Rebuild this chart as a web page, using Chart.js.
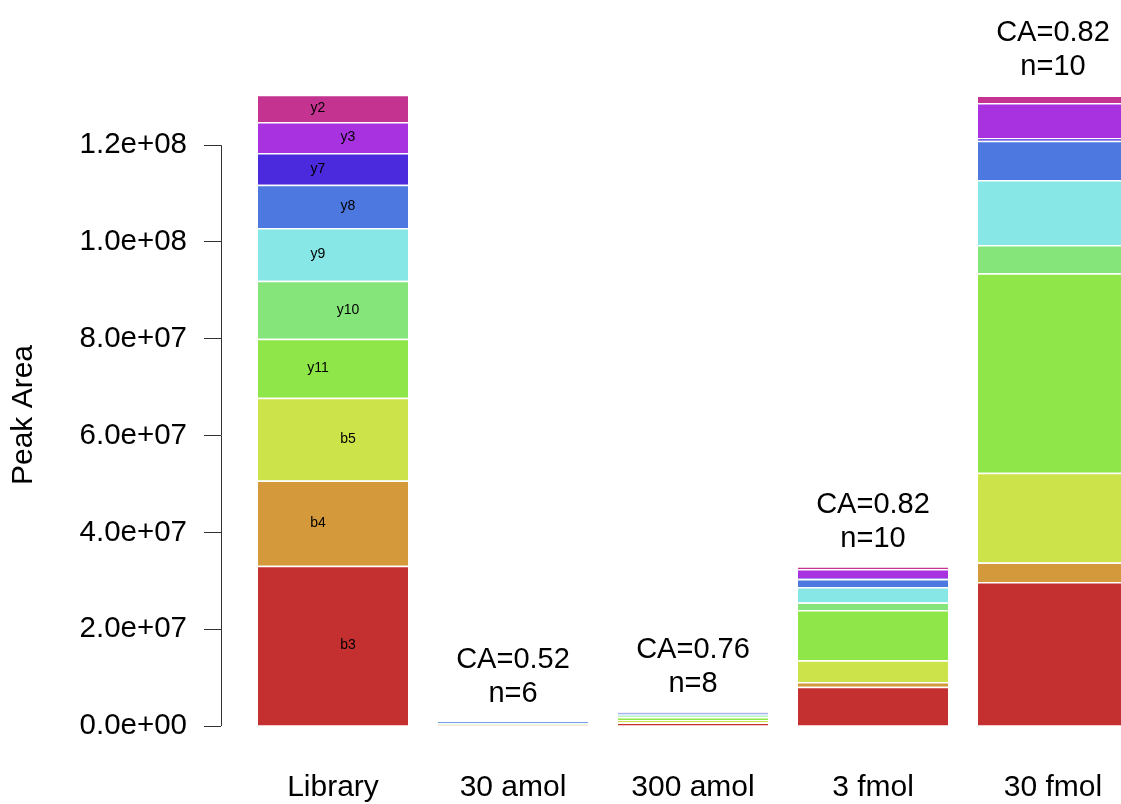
<!DOCTYPE html>
<html>
<head>
<meta charset="utf-8">
<title>Peak Area by fragment ion</title>
<script src="https://cdn.jsdelivr.net/npm/chart.js@4.4.1/dist/chart.umd.min.js"></script>
<style>
  html, body { margin: 0; padding: 0; background: #ffffff; overflow: hidden; }
  #wrap { width: 1121px; height: 804px; position: relative; overflow: hidden; }
  #chart { position: absolute; left: 0; top: 0; }
</style>
</head>
<body>
<div id="wrap"><canvas id="chart" width="1121" height="850"></canvas></div>
<script>
// Sample columns
const categories = ['Library', '30 amol', '300 amol', '3 fmol', '30 fmol'];

// Fragment ions, stacked from the bottom of each column to the top
const ions = ['b3', 'b4', 'b5', 'y11', 'y10', 'y9', 'y8', 'y7', 'y3', 'y2'];
const ionColors = ['#c4302f', '#d4993a', '#cce34a', '#8fe648', '#86e57a',
                   '#87e6e6', '#4c78df', '#4a2adc', '#a832df', '#c4338f'];

// Peak area of each ion per column
const b3  = [33.1e6, 0.20e6, 0.70e6,  8.12e6, 29.75e6];
const b4  = [17.6e6, 0,      0.10e6,  0.97e6,  4.03e6];
const b5  = [17.1e6, 0.10e6, 0.45e6,  4.48e6, 18.55e6];
const y11 = [12.2e6, 0.15e6, 0.55e6, 10.39e6, 41.20e6];
const y10 = [12.0e6, 0.05e6, 0.30e6,  1.55e6,  5.85e6];
const y9  = [10.9e6, 0.10e6, 0.25e6,  3.20e6, 13.43e6];
const y8  = [ 8.9e6, 0.30e6, 0.45e6,  1.66e6,  8.12e6];
const y7  = [ 6.6e6, 0,      0,       0.20e6,  0.56e6];
const y3  = [ 6.4e6, 0,      0.08e6,  1.86e6,  7.23e6];
const y2  = [ 5.6e6, 0,      0,       0.52e6,  1.55e6];
const ionValues = [b3, b4, b5, y11, y10, y9, y8, y7, y3, y2];

// Annotations above the sample columns
const caScores = [null, 0.52, 0.76, 0.82, 0.82];
const transitionCounts = [null, 6, 8, 10, 10];

// Y axis tick positions
const yTicks = [0, 2e7, 4e7, 6e7, 8e7, 1e8, 1.2e8];

const FONT = '"Liberation Sans", Arial, Helvetica, sans-serif';
const AXIS_COLOR = '#333333';

function sciLabel(v) {
  if (v === 0) return '0.0e+00';
  const e = Math.floor(Math.log10(Math.abs(v)) + 1e-9);
  const m = v / Math.pow(10, e);
  return m.toFixed(1) + 'e' + (e < 0 ? '-' : '+') + String(Math.abs(e)).padStart(2, '0');
}

const datasets = ions.map((name, i) => ({
  label: name,
  data: ionValues[i].map((v, j) => ({ x: j, y: v })),
  backgroundColor: ionColors[i],
  borderColor: '#ffffff',
  borderWidth: { top: 1.5, bottom: 0, left: 0, right: 0 },
  borderSkipped: false,
  barPercentage: 1,
  categoryPercentage: 150 / 180,
  clip: false
}));

// Y axis line spanning only the labelled tick range
const axisLine = {
  id: 'axisLine',
  afterDraw(chart) {
    const ys = chart.scales.y;
    const ctx = chart.ctx;
    const x = Math.round(chart.chartArea.left) + 0.5;
    ctx.save();
    ctx.strokeStyle = AXIS_COLOR;
    ctx.lineWidth = 1;
    ctx.beginPath();
    ctx.moveTo(x, ys.getPixelForValue(yTicks[0]));
    ctx.lineTo(x, ys.getPixelForValue(yTicks[yTicks.length - 1]));
    ctx.stroke();
    ctx.restore();
  }
};

// Ion names inside the Library column and CA / n labels above the others
const annotate = {
  id: 'annotate',
  afterDatasetsDraw(chart) {
    const ctx = chart.ctx;
    const xs = chart.scales.x;
    const ys = chart.scales.y;
    ctx.save();
    ctx.fillStyle = '#000000';
    ctx.textAlign = 'center';

    ctx.font = '14px ' + FONT;
    ctx.textBaseline = 'middle';
    chart.data.datasets.forEach((ds, i) => {
      const bar = chart.getDatasetMeta(i).data[0];
      const cx = bar.x + (i % 2 === 0 ? 15 : -15);
      ctx.fillText(ds.label, cx, (bar.y + bar.base) / 2);
    });

    ctx.font = '29px ' + FONT;
    ctx.textBaseline = 'alphabetic';
    categories.forEach((c, j) => {
      if (caScores[j] === null) return;
      const total = ionValues.reduce((s, arr) => s + arr[j], 0);
      const top = ys.getPixelForValue(total);
      const cx = xs.getPixelForValue(j);
      ctx.fillText('CA=' + caScores[j].toFixed(2), cx, top - 54);
      ctx.fillText('n=' + transitionCounts[j], cx, top - 20);
    });
    ctx.restore();
  }
};

new Chart(document.getElementById('chart'), {
  type: 'bar',
  data: { datasets },
  plugins: [annotate, axisLine],
  options: {
    responsive: false,
    devicePixelRatio: 1,
    animation: false,
    layout: { padding: { top: 104, left: 0, right: 0, bottom: 0 } },
    plugins: { legend: { display: false }, tooltip: { enabled: false } },
    scales: {
      x: {
        type: 'linear',
        stacked: true,
        min: -112 / 180,
        max: 5 - 112 / 180,
        offset: false,
        grid: { display: false, drawTicks: false },
        border: { display: false },
        afterBuildTicks(scale) {
          scale.ticks = categories.map((c, i) => ({ value: i }));
        },
        afterFit(scale) {
          scale.paddingLeft = 0;
          scale.paddingRight = 0;
        },
        ticks: {
          autoSkip: false,
          maxRotation: 0,
          padding: 44,
          color: '#000000',
          font: { family: FONT, size: 30 },
          callback: (v) => categories[v] ?? ''
        }
      },
      y: {
        stacked: true,
        min: 0,
        max: 1.285e8,
        afterFit(scale) { scale.width = 221; },
        afterBuildTicks(scale) {
          scale.ticks = yTicks.map(v => ({ value: v }));
        },
        grid: {
          display: true,
          drawOnChartArea: false,
          drawTicks: true,
          tickLength: 17,
          color: AXIS_COLOR,
          lineWidth: 1
        },
        border: { display: false },
        ticks: {
          padding: 17,
          color: '#000000',
          font: { family: FONT, size: 29.5 },
          callback: (v) => sciLabel(v)
        },
        title: {
          display: true,
          text: 'Peak Area',
          color: '#000000',
          font: { family: FONT, size: 30 },
          padding: { top: 6, bottom: 0 }
        }
      }
    }
  }
});
</script>
</body>
</html>
